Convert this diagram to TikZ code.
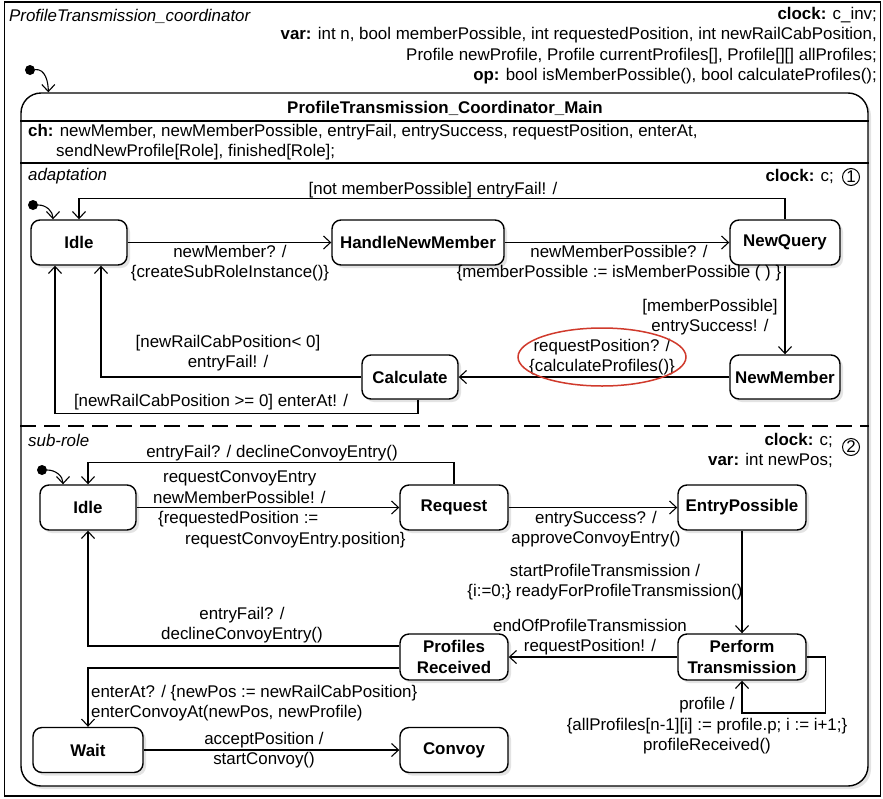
\documentclass[tikz,border=0pt]{standalone}
\usepackage{fontspec}
\setmainfont{Liberation Sans}
\usetikzlibrary{arrows.meta,shadows}
\definecolor{markred}{RGB}{208,58,44}
\newcommand{\txtsize}{\fontsize{16.9}{20.5}\selectfont}
\begin{document}
\begin{tikzpicture}[x=1pt,y=-1pt,
  every node/.style={font=\txtsize},
  stbox/.style={draw, line width=1.4pt, rounded corners=9pt, fill=white,
    font=\txtsize\bfseries, align=center, inner sep=0pt,
    drop shadow={opacity=0.22, shadow xshift=3pt, shadow yshift=-3pt}},
  trans/.style={line width=1.1pt, -{Straight Barb[length=7pt,width=13pt,line width=1.1pt]}},
  lbl/.style={align=center, inner sep=0pt},
  initdot/.style={circle, fill=black, inner sep=0pt, minimum size=10pt},
  regno/.style={circle, draw, line width=1pt, inner sep=0pt, minimum size=17pt},
]
\useasboundingbox (0,0) rectangle (883,798);

% outer frame and its declarations
\draw[line width=1.2pt] (4.5,2) rectangle (880.5,796);
\node[anchor=west, inner sep=0pt, font=\txtsize\itshape] (title) at (9,16) {ProfileTransmission\_coordinator};
\node[anchor=north east, align=right, inner sep=0pt] (decl) at (877,7)
  {\textbf{clock:} c\_inv;\\
   \textbf{var:} int n, bool memberPossible, int requestedPosition, int newRailCabPosition,\\
   Profile newProfile, Profile currentProfiles[], Profile[][] allProfiles;\\
   \textbf{op:} bool isMemberPossible(), bool calculateProfiles();};

% composite state
\node[draw, line width=1.4pt, rounded corners=20pt, fill=white, minimum width=847pt, minimum height=693pt,
  drop shadow={opacity=0.22, shadow xshift=3pt, shadow yshift=-3pt}] (main) at (444.5,439.5) {};
\node[initdot] (init0) at (30,70) {};
\draw[trans] (init0) to[out=5, in=90] ([xshift=28pt]main.north west);
\node[inner sep=0pt, font=\txtsize\bfseries] (mainname) at (445,108) {ProfileTransmission\_Coordinator\_Main};
\draw[line width=1.2pt] (main.west |- 0,121) -- (main.east |- 0,121);
\node[anchor=west, align=left, inner sep=0pt] (chans) at (28,142)
  {\textbf{ch:} newMember, newMemberPossible, entryFail, entrySuccess, requestPosition, enterAt,\\
   \hspace*{28pt}sendNewProfile[Role], finished[Role];};
\draw[line width=1.2pt] (main.west |- 0,163) -- (main.east |- 0,163);
\draw[line width=1.2pt, dash pattern=on 16pt off 8pt] (main.west |- 0,426) -- (main.east |- 0,426);

% region: adaptation
\node[anchor=west, inner sep=0pt, font=\txtsize\itshape] (regAname) at (28,176) {adaptation};
\node[anchor=east, inner sep=0pt] (clkA) at (834,176) {\textbf{clock:} c;};
\node[regno] (regA) at (851,177) {1};

\node[stbox, minimum width=96pt, minimum height=45pt] (idleA) at (79,242.5) {Idle};
\node[stbox, minimum width=172pt, minimum height=45pt] (hnm) at (418,242.5) {HandleNewMember};
\node[stbox, minimum width=110pt, minimum height=45pt] (nq) at (785,242.5) {NewQuery};
\node[stbox, minimum width=110pt, minimum height=44pt] (nm) at (785,377) {NewMember};
\node[stbox, minimum width=96pt, minimum height=44pt] (calc) at (410,377) {Calculate};
\node[initdot] (initA) at (33,205) {};

\draw[trans] (initA) to[out=0, in=90] ([xshift=-26pt]idleA.north);
\draw[trans] (idleA.east) -- (hnm.west);
\draw[trans] (hnm.east) -- (nq.west);
\draw[trans] (nq.north) -- ++(0,-21) -| (idleA.north);
\draw[trans] (nq.south) -- (nm.north);
\draw[trans] (nm.west) -- (calc.east);
\draw[trans] (calc.west) -| ([xshift=22pt]idleA.south);
\draw[trans] ([xshift=8pt]calc.south) -- ++(0,14) -| ([xshift=-24pt]idleA.south);

\node[lbl] (tA1) at (230,263) {newMember? /\\\{createSubRoleInstance()\}};
\node[lbl] (tA2) at (619,263) {newMemberPossible? /\\\{memberPossible := isMemberPossible ( ) \}};
\node[lbl] (tA3) at (433,190) {[not memberPossible] entryFail! /};
\node[lbl] (tA4) at (710,317) {[memberPossible]\\entrySuccess! /};
\node[lbl] (tA5) at (602,357) {requestPosition? /\\\{calculateProfiles()\}};
\draw[markred, line width=1.5pt] (tA5) ellipse [x radius=84pt, y radius=29pt];
\node[lbl] (tA6) at (228,353) {[newRailCabPosition< 0]\\entryFail! /};
\node[lbl] (tA7) at (211,402) {[newRailCabPosition >= 0] enterAt! /};

% region: sub-role
\node[anchor=west, inner sep=0pt, font=\txtsize\itshape] (regBname) at (28,440) {sub-role};
\node[anchor=north east, align=right, inner sep=0pt] (clkB) at (833,433) {\textbf{clock:} c;\\\textbf{var:} int newPos;};
\node[regno] (regB) at (851,447) {2};

\node[stbox, minimum width=96pt, minimum height=45pt] (idleB) at (88,507.5) {Idle};
\node[stbox, minimum width=108pt, minimum height=45pt] (req) at (454,507.5) {Request};
\node[stbox, minimum width=128pt, minimum height=45pt] (ep) at (742,507.5) {EntryPossible};
\node[stbox, minimum width=128pt, minimum height=46pt] (pt) at (742,657) {Perform\\Transmission};
\node[stbox, minimum width=108pt, minimum height=46pt] (pr) at (454,657) {Profiles\\Received};
\node[stbox, minimum width=110pt, minimum height=45pt] (wait) at (88,750) {Wait};
\node[stbox, minimum width=108pt, minimum height=45pt] (convoy) at (454,750) {Convoy};
\node[initdot] (initB) at (42,470) {};

\draw[trans] (initB) to[out=0, in=90] ([xshift=-25pt]idleB.north);
\draw[trans] (idleB.east) -- (req.west);
\draw[trans] (req.north) -- ++(0,-22) -| (idleB.north);
\draw[trans] (req.east) -- (ep.west);
\draw[trans] (ep.south) -- (pt.north);
\draw[trans] (pt.west) -- (pr.east);
\draw[trans] ([yshift=11pt]pr.west) -| (idleB.south);
\draw[trans] ([yshift=-11pt]pr.west) -| (wait.north);
\draw[trans] (wait.east) -- (convoy.west);
\draw[trans] (pt.east) -- ++(19,0) -- ++(0,56) -| (pt.south);

\node[lbl] (tB1) at (272,453) {entryFail? / declineConvoyEntry()};
\node[anchor=west, align=left, inner sep=0pt] (tB2) at (153,509.5)
  {\hspace*{10pt}requestConvoyEntry\\
   newMemberPossible! /\\
   \hspace*{5pt}\{requestedPosition :=\\
   \hspace*{32pt}requestConvoyEntry.position\}};
\node[lbl] (tB3) at (596,529) {entrySuccess? /\\approveConvoyEntry()};
\node[lbl] (tB4) at (605,582) {startProfileTransmission /\\\{i:=0;\} readyForProfileTransmission()};
\node[lbl] (tB5) at (590,637) {endOfProfileTransmission\\requestPosition! /};
\node[lbl] (tB6) at (707,726) {profile /\\\{allProfiles[n-1][i] := profile.p; i := i+1;\}\\profileReceived()};
\node[lbl] (tB7) at (242,625) {entryFail? /\\declineConvoyEntry()};
\node[anchor=west, align=left, inner sep=0pt] (tB8) at (91,703)
  {enterAt? / \{newPos := newRailCabPosition\}\\enterConvoyAt(newPos, newProfile)};
\node[lbl] (tB9) at (264,750) {acceptPosition /\\startConvoy()};
\end{tikzpicture}
\end{document}
